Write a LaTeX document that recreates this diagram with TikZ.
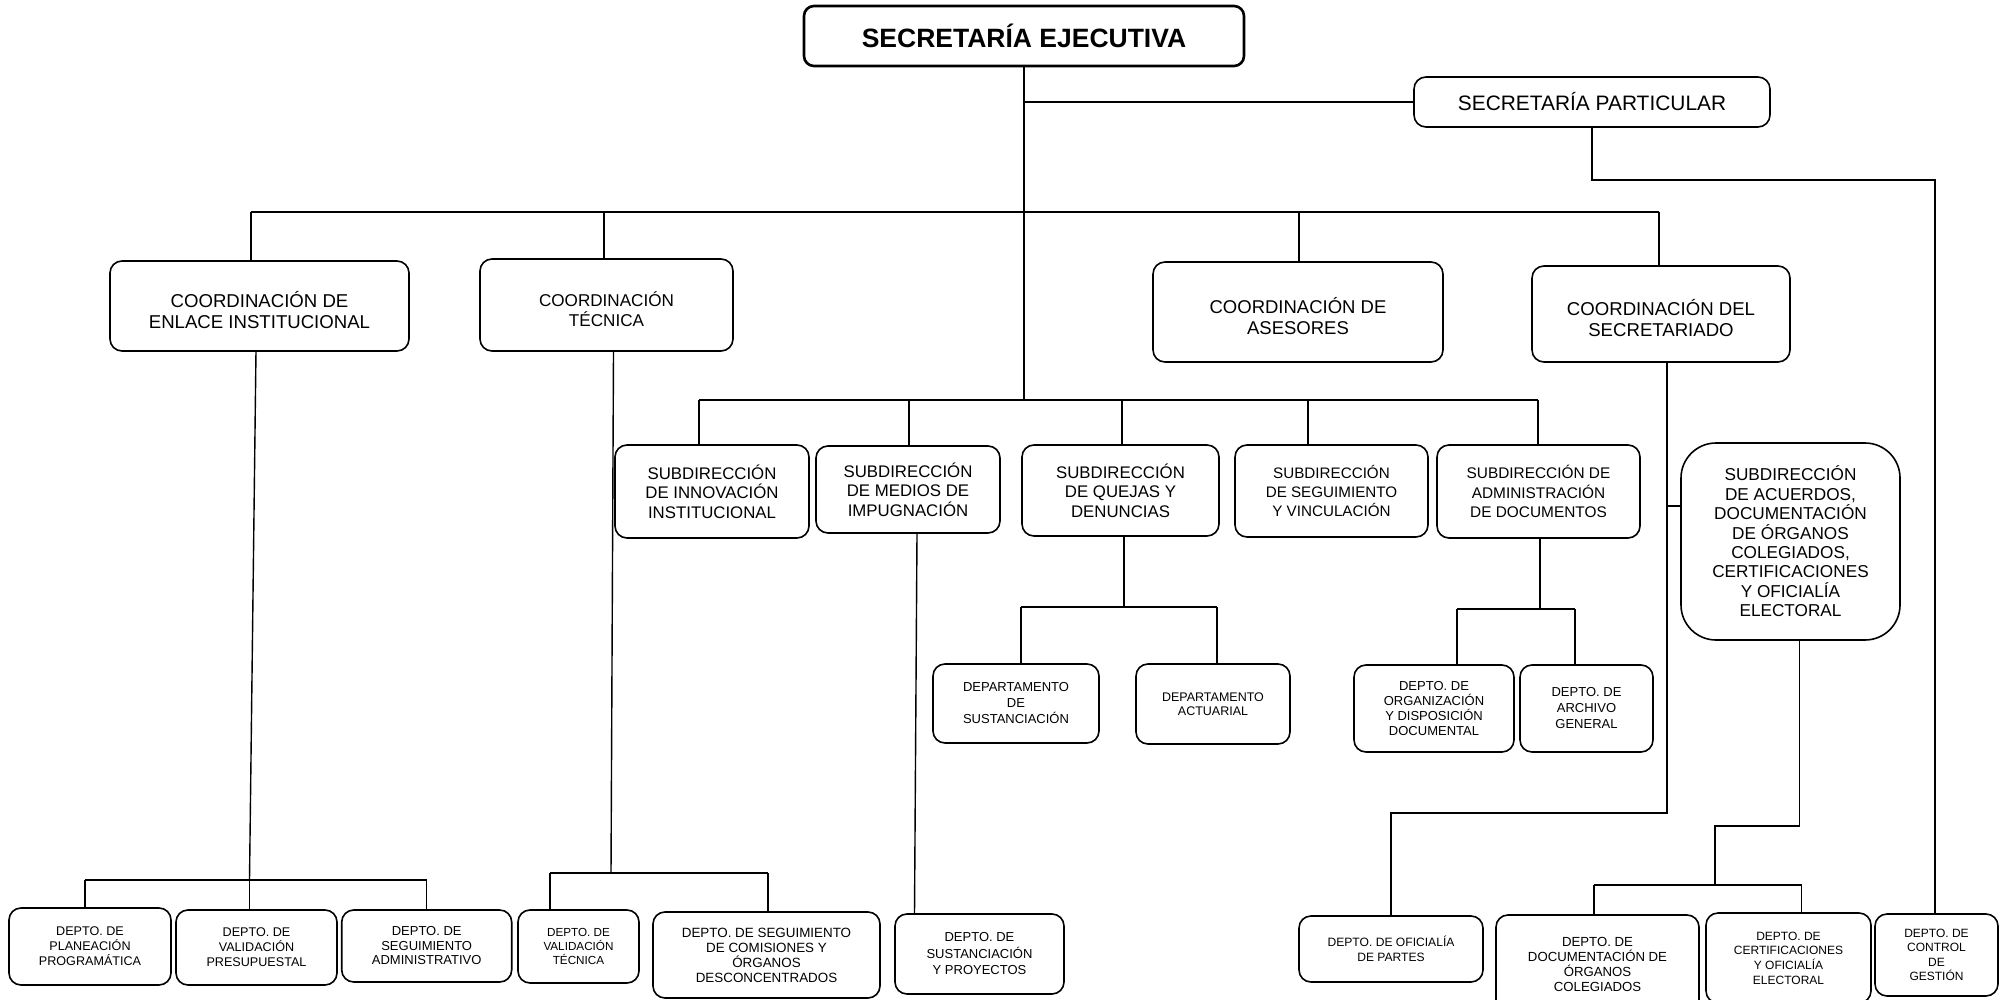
\documentclass[tikz,border=0pt]{standalone}
\usepackage{fontspec}
\setmainfont{Liberation Sans}
\newcommand{\dnstrut}{\rule{0pt}{1.3em}}
\begin{document}
\begin{tikzpicture}[x=1pt,y=-1pt,
  box/.style={draw, line width=1.6pt, rounded corners=12pt, align=center, inner sep=0pt},
  sz/.style 2 args={minimum width=#1pt, minimum height=#2pt},
  fs/.style 2 args={font=\fontsize{#1}{#2}\selectfont},
  conn/.style={line width=1.4pt}]
\useasboundingbox (0,0) rectangle (1999,1000);
\clip (0,0) rectangle (1999,1000);
\fill[white] (0,0) rectangle (1999,1000);

% ---- nodes ----
\node[box, rounded corners=10pt, line width=2.6pt, sz={440}{60}, fs={26.5}{30}] (se) at (1024,36) {\bfseries SECRETARÍA EJECUTIVA};
\node[box, sz={356}{50}, fs={20.9}{24}] (sp) at (1592,102) {SECRETARÍA PARTICULAR};
\node[box, sz={299}{90}, fs={18.6}{21}] (cei) at (259.5,306) {\dnstrut COORDINACIÓN DE\\ENLACE INSTITUCIONAL};
\node[box, sz={253}{92}, fs={17.1}{20}] (ctec) at (606.5,305) {\dnstrut COORDINACIÓN\\TÉCNICA};
\node[box, sz={290}{100}, fs={18.5}{21}] (cas) at (1298,312) {\dnstrut COORDINACIÓN DE\\ASESORES};
\node[box, sz={258}{96}, fs={18.6}{21}] (csec) at (1661,314) {\dnstrut COORDINACIÓN DEL\\SECRETARIADO};
\node[box, sz={194}{93}, fs={16.8}{19.5}] (sinn) at (712,491.5) {SUBDIRECCIÓN\\DE INNOVACIÓN\\INSTITUCIONAL};
\node[box, sz={184}{87}, fs={16.8}{19.5}] (smed) at (908,489.5) {SUBDIRECCIÓN\\DE MEDIOS DE\\IMPUGNACIÓN};
\node[box, sz={197}{91}, fs={16.8}{19.5}] (sque) at (1120.5,490.5) {SUBDIRECCIÓN\\DE QUEJAS Y\\DENUNCIAS};
\node[box, sz={193}{92}, fs={15.2}{19}] (sseg) at (1331.5,491) {SUBDIRECCIÓN\\DE SEGUIMIENTO\\Y VINCULACIÓN};
\node[box, sz={203}{93}, fs={15.4}{19.5}] (sadm) at (1538.5,491.5) {SUBDIRECCIÓN DE\\ADMINISTRACIÓN\\DE DOCUMENTOS};
\node[box, rounded corners=35pt, sz={219}{197}, fs={17.2}{19.4}] (sacu) at (1790.5,541.5) {SUBDIRECCIÓN\\DE ACUERDOS,\\DOCUMENTACIÓN\\DE ÓRGANOS\\COLEGIADOS,\\CERTIFICACIONES\\Y OFICIALÍA\\ELECTORAL};
\node[box, sz={166}{79}, fs={13}{16}] (dsus) at (1016,703.5) {DEPARTAMENTO\\DE\\SUSTANCIACIÓN};
\node[box, sz={154}{80}, fs={12.5}{14}] (dact) at (1213,704) {DEPARTAMENTO\\ACTUARIAL};
\node[box, sz={160}{87}, fs={13}{15}] (dorg) at (1434,708.5) {DEPTO. DE\\ORGANIZACIÓN\\Y DISPOSICIÓN\\DOCUMENTAL};
\node[box, sz={133}{87}, fs={13}{16}] (darc) at (1586.5,708.5) {DEPTO. DE\\ARCHIVO\\GENERAL};
\node[box, sz={162}{77}, fs={12.6}{15}] (dpla) at (90,946.5) {DEPTO. DE\\PLANEACIÓN\\PROGRAMÁTICA};
\node[box, sz={161}{75}, fs={12.6}{15}] (dval) at (256.5,947.5) {DEPTO. DE\\VALIDACIÓN\\PRESUPUESTAL};
\node[box, sz={170}{72}, fs={13}{14.5}] (dsad) at (426.7,946) {DEPTO. DE\\SEGUIMIENTO\\ADMINISTRATIVO};
\node[box, sz={121}{73}, fs={11.7}{14}] (dvt) at (578.5,946.5) {DEPTO. DE\\VALIDACIÓN\\TÉCNICA};
\node[box, sz={227}{86}, fs={13.4}{15}] (dsc) at (766.5,955) {DEPTO. DE SEGUIMIENTO\\DE COMISIONES Y\\ÓRGANOS\\DESCONCENTRADOS};
\node[box, sz={169}{80}, fs={13}{16.5}] (dsp) at (979.5,954) {DEPTO. DE\\SUSTANCIACIÓN\\Y PROYECTOS};
\node[box, sz={184}{66}, fs={12.1}{15}] (dofp) at (1391,949) {DEPTO. DE OFICIALÍA\\DE PARTES};
\node[box, sz={203}{99}, fs={13.2}{15}] (ddoc) at (1597.5,964.5) {DEPTO. DE\\DOCUMENTACIÓN DE\\ÓRGANOS\\COLEGIADOS};
\node[box, sz={165}{90}, fs={12}{14.7}] (dcer) at (1788.5,958) {DEPTO. DE\\CERTIFICACIONES\\Y OFICIALÍA\\ELECTORAL};
\node[box, sz={123}{82}, fs={12}{14.5}] (dcg) at (1936.5,955) {DEPTO. DE\\CONTROL\\DE\\GESTIÓN};

% ---- connector coordinates ----
\coordinate (tb) at (1024,400);
\coordinate (c1) at (251,212);
\coordinate (c2) at (604,212);
\coordinate (c3) at (1299,212);
\coordinate (c4) at (1659,212);
\coordinate (s1) at (699,400);
\coordinate (s2) at (909,400);
\coordinate (s3) at (1122,400);
\coordinate (s4) at (1308,400);
\coordinate (s5) at (1538,400);
\coordinate (r1) at (1935,180);
\coordinate (e0) at (256,351);
\coordinate (e1) at (249.5,880);
\coordinate (e2) at (85,880);
\coordinate (e3) at (426.7,880);
\coordinate (t0) at (613.5,351);
\coordinate (t1) at (611,873);
\coordinate (t2) at (550,873);
\coordinate (t3) at (768,873);
\coordinate (m0) at (917,533);
\coordinate (m1) at (914.5,900);
\coordinate (q0) at (1124,536);
\coordinate (q1) at (1124,607);
\coordinate (q2) at (1021,607);
\coordinate (q3) at (1217,607);
\coordinate (a0) at (1540,538);
\coordinate (a1) at (1540,609);
\coordinate (a2) at (1457,609);
\coordinate (a3) at (1575,609);
\coordinate (k0) at (1667,362);
\coordinate (k1) at (1667,813);
\coordinate (k2) at (1391,813);
\coordinate (k3) at (1667,506);
\coordinate (u0) at (1799.5,640);
\coordinate (u1) at (1799.5,826);
\coordinate (u2) at (1715,826);
\coordinate (u3) at (1715,885);
\coordinate (u4) at (1594,885);
\coordinate (u5) at (1801.5,885);

% ---- connectors ----
\draw[conn] (se.south) -- (tb);
\draw[conn] (se.south |- sp.west) -- (sp.west);
\draw[conn] (c1) -- (c4);
\draw[conn] (c1) -- (c1 |- cei.north);
\draw[conn] (c2) -- (c2 |- ctec.north);
\draw[conn] (c3) -- (c3 |- cas.north);
\draw[conn] (c4) -- (c4 |- csec.north);
\draw[conn] (s1) -- (s5);
\draw[conn] (s1) -- (s1 |- sinn.north);
\draw[conn] (s2) -- (s2 |- smed.north);
\draw[conn] (s3) -- (s3 |- sque.north);
\draw[conn] (s4) -- (s4 |- sseg.north);
\draw[conn] (s5) -- (s5 |- sadm.north);
\draw[conn] (sp.south) -- (sp.south |- r1) -- (r1) -- (r1 |- dcg.north);
\draw[conn] (e0) -- (e1);
\draw[conn] (e2) -- (e3);
\draw[conn] (e2) -- (e2 |- dpla.north);
\draw[conn] (e1) -- (e1 |- dval.north);
\draw[conn] (e3) -- (e3 |- dsad.north);
\draw[conn] (t0) -- (t1);
\draw[conn] (t2) -- (t3);
\draw[conn] (t2) -- (t2 |- dvt.north);
\draw[conn] (t3) -- (t3 |- dsc.north);
\draw[conn] (m0) -- (m1 |- dsp.north);
\draw[conn] (q0) -- (q1);
\draw[conn] (q2) -- (q3);
\draw[conn] (q2) -- (q2 |- dsus.north);
\draw[conn] (q3) -- (q3 |- dact.north);
\draw[conn] (a0) -- (a1);
\draw[conn] (a2) -- (a3);
\draw[conn] (a2) -- (a2 |- dorg.north);
\draw[conn] (a3) -- (a3 |- darc.north);
\draw[conn] (k0) -- (k1) -- (k2) -- (k2 |- dofp.north);
\draw[conn] (k3) -- (k3 -| sacu.west);
\draw[conn] (u0) -- (u1) -- (u2) -- (u3);
\draw[conn] (u4) -- (u5);
\draw[conn] (u4) -- (u4 |- ddoc.north);
\draw[conn] (u5) -- (u5 |- dcer.north);
\end{tikzpicture}
\end{document}
